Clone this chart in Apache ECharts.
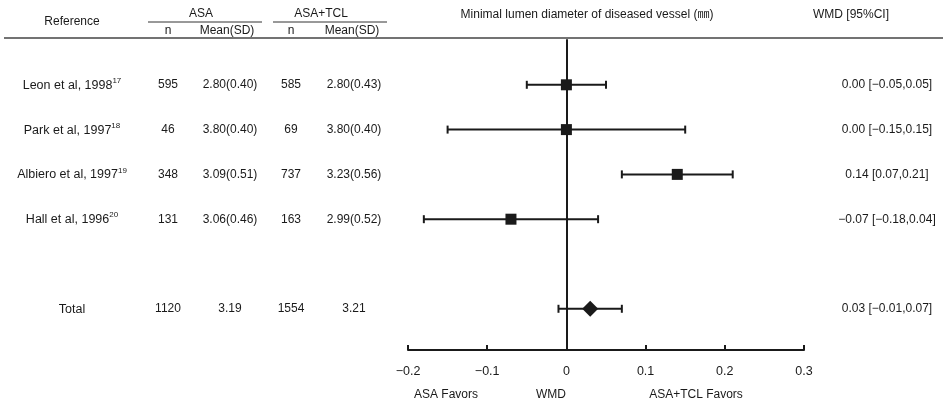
<!DOCTYPE html>
<html><head><meta charset="utf-8">
<script src="https://cdn.jsdelivr.net/npm/echarts@6/dist/echarts.min.js"></script>
<style>html,body{margin:0;padding:0;background:#fff}#c{width:943px;height:401px}</style>
</head><body><div id="c"></div>
<script>
// ---- data ----
const studies = ['Leon et al, 1998', 'Park et al, 1997', 'Albiero et al, 1997', 'Hall et al, 1996'];
const refs = ['17', '18', '19', '20'];
const asaN = [595, 46, 348, 131];
const asaMean = ['2.80(0.40)', '3.80(0.40)', '3.09(0.51)', '3.06(0.46)'];
const tclN = [585, 69, 737, 163];
const tclMean = ['2.80(0.43)', '3.80(0.40)', '3.23(0.56)', '2.99(0.52)'];
const wmd = [0.00, 0.00, 0.14, -0.07];
const ciLow = [-0.05, -0.15, 0.07, -0.18];
const ciHigh = [0.05, 0.15, 0.21, 0.04];
const studyRows = [1, 2, 3, 4];

const totalLabel = 'Total';
const totalAsaN = 1120;
const totalAsaMean = '3.19';
const totalTclN = 1554;
const totalTclMean = '3.21';
const totalWmd = 0.03;
const totalLow = -0.01;
const totalHigh = 0.07;
const totalRow = 6;

const xTicks = [-0.2, -0.1, 0, 0.1, 0.2, 0.3];

// ---- layout ----
const FONT = '12px "Liberation Sans", Arial, "Noto Sans CJK JP", sans-serif';
const INK = '#1a1a1a';
const colX = { study: 72, asaN: 168, asaMean: 230, tclN: 291, tclMean: 354, wmd: 887 };
const minus = s => String(s).replace(/-/g, '\u2212');
const fmt = v => minus(v.toFixed(2));

const tableRows = studies.map((s, i) => ({
  row: studyRows[i], name: s, ref: refs[i], an: asaN[i], am: asaMean[i], tn: tclN[i], tm: tclMean[i],
  w: fmt(wmd[i]) + ' [' + fmt(ciLow[i]) + ',' + fmt(ciHigh[i]) + ']'
}));
tableRows.push({ row: totalRow, name: totalLabel, ref: '', an: totalAsaN, am: totalAsaMean, tn: totalTclN, tm: totalTclMean,
  w: fmt(totalWmd) + ' [' + fmt(totalLow) + ',' + fmt(totalHigh) + ']' });

function txt(x, y, text, extra) {
  return Object.assign({
    type: 'text', x: x, y: y,
    style: { text: text, fill: INK, font: FONT, align: 'center', verticalAlign: 'middle', textAlign: 'center', textVerticalAlign: 'middle' }
  }, extra || {});
}

const chart = echarts.init(document.getElementById('c'), null, { renderer: 'canvas' });

const option = {
  animation: false,
  backgroundColor: '#fff',
  grid: { left: 408, right: 139, top: 40, bottom: 51, containLabel: false },
  xAxis: {
    type: 'value', min: xTicks[0], max: xTicks[xTicks.length - 1], interval: 0.1,
    axisLine: { onZero: false, lineStyle: { color: INK, width: 2 } },
    axisTick: { inside: true, length: 5, lineStyle: { color: INK, width: 2 } },
    splitLine: { show: false },
    axisLabel: { color: INK, fontSize: 12.5, fontFamily: '"Liberation Sans", Arial, sans-serif', margin: 15,
      formatter: v => minus(Math.round(v * 10) / 10) }
  },
  yAxis: {
    type: 'value', min: 0, max: 6.92, inverse: true,
    axisLine: { show: true, onZero: true, lineStyle: { color: INK, width: 2 } },
    axisTick: { show: false }, axisLabel: { show: false }, splitLine: { show: false }
  },
  series: [
    {
      type: 'custom', name: 'ci', clip: false, z: 3,
      data: studies.map((s, i) => [ciLow[i], ciHigh[i], studyRows[i]]).concat([[totalLow, totalHigh, totalRow]]),
      renderItem: function (params, api) {
        const r = api.value(2);
        const p1 = api.coord([api.value(0), r]);
        const p2 = api.coord([api.value(1), r]);
        const st = { stroke: INK, lineWidth: 2 };
        return {
          type: 'group', children: [
            { type: 'line', shape: { x1: p1[0], y1: p1[1], x2: p2[0], y2: p2[1] }, style: st },
            { type: 'line', shape: { x1: p1[0], y1: p1[1] - 4, x2: p1[0], y2: p1[1] + 4 }, style: st },
            { type: 'line', shape: { x1: p2[0], y1: p2[1] - 4, x2: p2[0], y2: p2[1] + 4 }, style: st }
          ]
        };
      }
    },
    {
      type: 'scatter', name: 'studies', symbol: 'rect', symbolSize: 11, z: 5,
      itemStyle: { color: INK, opacity: 1 },
      data: studies.map((s, i) => [wmd[i], studyRows[i]])
    },
    {
      type: 'scatter', name: 'total', symbol: 'diamond', symbolSize: [16, 16], z: 5,
      itemStyle: { color: INK, opacity: 1 },
      data: [[totalWmd, totalRow]]
    },
    {
      type: 'custom', name: 'table', clip: false, silent: true,
      data: tableRows.map(t => [t.row]),
      renderItem: function (params, api) {
        const t = tableRows[params.dataIndex];
        const y = api.coord([0, api.value(0)])[1];
        const nameText = t.ref ? ('{a|' + t.name + '}{s|' + t.ref + '}') : ('{a|' + t.name + '}');
        return {
          type: 'group', children: [
            { type: 'text', x: colX.study, y: y - 0.5, style: {
              text: nameText, fill: INK, align: 'center', verticalAlign: 'middle', textAlign: 'center', textVerticalAlign: 'middle',
              rich: {
                a: { font: '12.5px "Liberation Sans", Arial, sans-serif', fill: INK, lineHeight: 15, verticalAlign: 'bottom' },
                s: { font: '8px "Liberation Sans", Arial, sans-serif', fill: INK, lineHeight: 15, verticalAlign: 'top' }
              } } },
            txt(colX.asaN, y, String(t.an)),
            txt(colX.asaMean, y, t.am),
            txt(colX.tclN, y, String(t.tn)),
            txt(colX.tclMean, y, t.tm),
            txt(colX.wmd, y, t.w)
          ]
        };
      }
    }
  ],
  graphic: [
    txt(72, 22, 'Reference'),
    txt(201, 14, 'ASA'),
    txt(321, 14, 'ASA+TCL'),
    { type: 'line', shape: { x1: 148, y1: 22, x2: 262, y2: 22 }, style: { stroke: '#333', lineWidth: 1 } },
    { type: 'line', shape: { x1: 273, y1: 22, x2: 387, y2: 22 }, style: { stroke: '#333', lineWidth: 1 } },
    txt(168, 31, 'n'),
    txt(227, 31, 'Mean(SD)'),
    txt(291, 31, 'n'),
    txt(352, 31, 'Mean(SD)'),
    txt(587, 15, 'Minimal lumen diameter of diseased vessel (\u339c)'),
    txt(851, 15, 'WMD [95%CI]'),
    { type: 'line', shape: { x1: 4, y1: 38, x2: 943, y2: 38 }, style: { stroke: '#444', lineWidth: 1.5 } },
    txt(446, 395, 'ASA Favors'),
    txt(551, 395, 'WMD'),
    txt(696, 395, 'ASA+TCL Favors')
  ]
};
chart.setOption(option);
</script>
</body></html>
